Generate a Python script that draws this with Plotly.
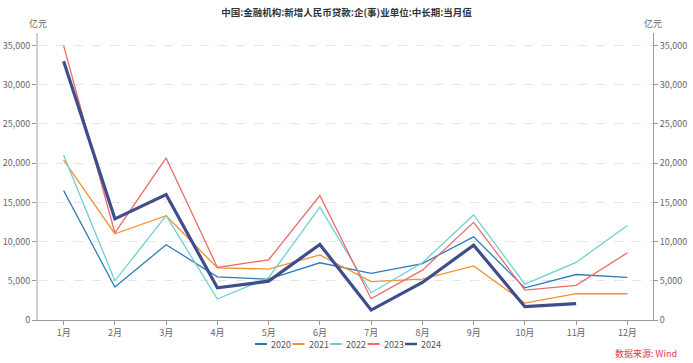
import plotly.graph_objects as go

months = ["1月", "2月", "3月", "4月", "5月", "6月", "7月", "8月", "9月", "10月", "11月", "12月"]
y2020 = [16500, 4200, 9600, 5500, 5200, 7300, 5940, 7200, 10600, 4100, 5800, 5430]
y2021 = [20400, 11000, 13300, 6650, 6500, 8300, 4900, 5200, 6900, 2160, 3350, 3350]
y2022 = [21000, 5000, 13300, 2670, 5400, 14400, 3480, 7300, 13400, 4580, 7340, 12050]
y2023 = [35000, 11100, 20660, 6700, 7680, 15870, 2720, 6360, 12450, 3820, 4410, 8570]
y2024 = [33000, 12900, 16000, 4100, 4960, 9630, 1270, 4790, 9540, 1700, 2080, None]
series_names = ["2020", "2021", "2022", "2023", "2024"]
tick_vals = [0, 5000, 10000, 15000, 20000, 25000, 30000, 35000]

colors = ["#2e7db8", "#f5902e", "#6fcfd0", "#ec6b6b", "#3f4d8c"]
widths = [1.3, 1.3, 1.3, 1.3, 3.2]
data = [y2020, y2021, y2022, y2023, y2024]

FONT = "Microsoft YaHei, Noto Sans CJK SC, sans-serif"

fig = go.Figure()
for name, ys, c, w in zip(series_names, data, colors, widths):
    fig.add_trace(go.Scatter(x=months, y=ys, name=name, mode="lines",
                             line=dict(color=c, width=w), showlegend=False))

yr = [0, 36600]
W, H = 693, 363
ML, MR, MT, MB = 38, 40, 33, 43
PW = W - ML - MR
PH = H - MT - MB

# manual compact legend (paper coordinates)
shapes = []
anns = []
leg_x0 = 255
leg_step = 37.5
leg_y = 344
for i, (name, c) in enumerate(zip(series_names, colors)):
    x0 = leg_x0 + i * leg_step
    px0 = (x0 - ML) / PW
    px1 = (x0 + 12 - ML) / PW
    py = (H - MB - leg_y) / PH
    shapes.append(dict(type="line", xref="paper", yref="paper", x0=px0, x1=px1, y0=py, y1=py,
                       line=dict(color=c, width=2 if i < 4 else 2.5)))
    anns.append(dict(text=name, xref="paper", yref="paper", x=(x0 + 14 - ML) / PW, y=py,
                     xanchor="left", yanchor="middle", showarrow=False,
                     font=dict(size=9, color="#555")))

fig.update_layout(
    width=W, height=H,
    margin=dict(l=ML, r=MR, t=MT, b=MB, autoexpand=False),
    plot_bgcolor="white", paper_bgcolor="white",
    font=dict(family=FONT, size=9, color="#555"),
    title=dict(text="<b>中国:金融机构:新增人民币贷款:企(事)业单位:中长期:当月值</b>",
               x=0.5, xanchor="center", yref="container", y=1 - 12.5 / H, yanchor="middle",
               font=dict(size=9.5, color="#333", family=FONT)),
    showlegend=False,
    xaxis=dict(type="category", range=[-0.5, 11.5], showgrid=False, automargin=False,
               showline=True, linecolor="#999", linewidth=1,
               ticks="outside", ticklen=4, tickcolor="#999",
               tickfont=dict(size=9, color="#666")),
    yaxis=dict(range=yr, tickvals=tick_vals, tickformat=",", showgrid=True, automargin=False,
               gridcolor="#e6e6e6", griddash="dash", gridwidth=1,
               showline=True, linecolor="#d0d0d0", linewidth=2,
               ticks="outside", ticklen=4, tickcolor="#999",
               tickfont=dict(size=9, color="#666"), zeroline=False),
    yaxis2=dict(range=yr, tickvals=tick_vals, tickformat=",", overlaying="y", automargin=False,
                side="right", showgrid=False, showline=True, linecolor="#999",
                linewidth=1, ticks="outside", ticklen=4, tickcolor="#999",
                tickfont=dict(size=9, color="#666"), zeroline=False, matches="y"),
    shapes=shapes,
    annotations=anns + [
        dict(text="亿元", xref="paper", yref="paper", x=0.0, y=1.0, yshift=10,
             showarrow=False, font=dict(size=9, color="#666"), xanchor="center", yanchor="middle"),
        dict(text="亿元", xref="paper", yref="paper", x=1.0, y=1.0, yshift=10,
             showarrow=False, font=dict(size=9, color="#666"), xanchor="center", yanchor="middle"),
        dict(text="数据来源: Wind", xref="paper", yref="paper", x=(679 - ML) / PW, y=(H - MB - 353) / PH,
             showarrow=False, font=dict(size=9, color="#e03c3c"), xanchor="right", yanchor="middle"),
    ],
)
fig.add_trace(go.Scatter(x=[months[0]], y=[None], yaxis="y2", showlegend=False, hoverinfo="skip"))

fig.write_html("out.html", config={"displayModeBar": False},
               post_script="document.body.style.margin='0';document.body.style.overflow='hidden';")
